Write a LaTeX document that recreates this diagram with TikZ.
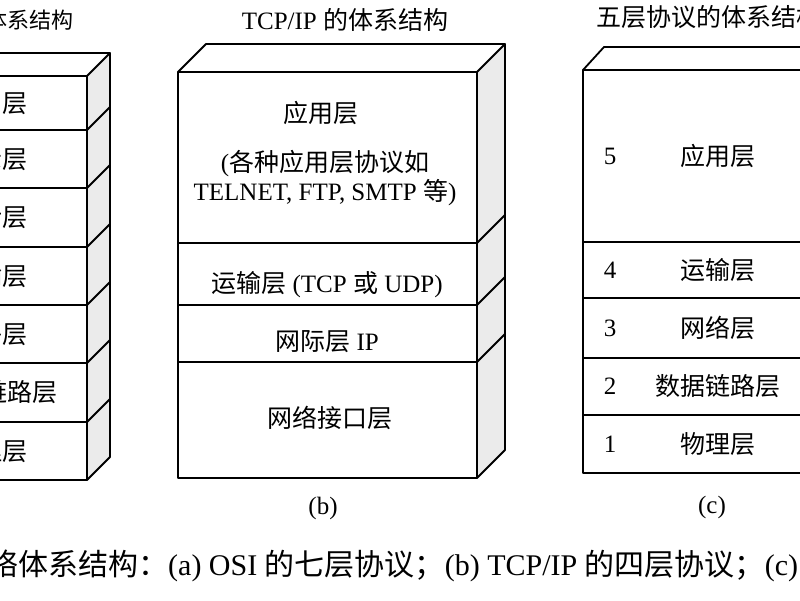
\documentclass[tikz,border=0pt]{standalone}
\usepackage{fontspec}
\setmainfont{Liberation Serif}
\newfontfamily\cjk{Noto Sans CJK SC}
\newcommand{\zh}[1]{{\cjk #1}}
\usetikzlibrary{positioning,calc}

\tikzset{
  edge/.style={line width=1.8pt, line join=round},
  layer/.style={draw, edge, minimum width=#1, inner sep=0pt, outer sep=0pt, font=\fontsize{25}{30}\selectfont},
  side/.style={edge, fill=black!8},
  ttl/.style={font=\fontsize{25}{29}\selectfont, inner sep=0pt},
  txt/.style={font=\fontsize{25}{29}\selectfont, inner sep=0pt, align=center},
  num/.style={font=\fontsize{25}{29}\selectfont, inner sep=0pt},
  captext/.style={font=\fontsize{30}{35}\selectfont, inner sep=0pt}
}

\begin{document}
\begin{tikzpicture}[x=1pt,y=-1pt]
\useasboundingbox (0,0) rectangle (800,600);
\clip (0,0) rectangle (800,600);
\fill[white] (0,0) rectangle (800,600);

% (a) OSI
\node[ttl, font=\fontsize{22}{26}\selectfont, anchor=east] (ta) at (74,20) {OSI \zh{的体系结构}};
\node[layer=194, minimum height=54] (a7) at (-10,103) {\zh{应用层}};
\node[layer=194, minimum height=58, below=0pt of a7] (a6) {\zh{表示层}};
\node[layer=194, minimum height=59, below=0pt of a6] (a5) {\zh{会话层}};
\node[layer=194, minimum height=58, below=0pt of a5] (a4) {\zh{运输层}};
\node[layer=194, minimum height=58, below=0pt of a4] (a3) {\zh{网络层}};
\node[layer=194, minimum height=59, below=0pt of a3] (a2) {\hspace*{10pt}\zh{数据链路层}};
\node[layer=194, minimum height=58, below=0pt of a2] (a1) {\zh{物理层}};
\draw[edge] (a7.north west) -- ++(23,-23) -- ($(a7.north east)+(23,-23)$);
\filldraw[side] (a7.north east) -- ++(23,-23) -- ($(a1.south east)+(23,-23)$) -- (a1.south east) -- cycle;
\foreach \n in {a7,a6,a5,a4,a3,a2}
  \draw[edge] (\n.south east) -- ++(23,-23);

% (b) TCP/IP
\node[ttl] (tb) at (345,20) {TCP/IP \zh{的体系结构}};
\node[layer=299, minimum height=171] (b4) at (327.5,157.5) {};
\node[layer=299, minimum height=62, below=0pt of b4] (b3) {};
\node[layer=299, minimum height=57, below=0pt of b3] (b2) {};
\node[layer=299, minimum height=116, below=0pt of b2] (b1) {};
\draw[edge] (b4.north west) -- ++(28,-28) -- ($(b4.north east)+(28,-28)$);
\filldraw[side] (b4.north east) -- ++(28,-28) -- ($(b1.south east)+(28,-28)$) -- (b1.south east) -- cycle;
\foreach \n in {b4,b3,b2}
  \draw[edge] (\n.south east) -- ++(28,-28);
\node[txt] (b4t) at (321,113) {\zh{应用层}};
\node[txt] (b4n) at (325,178) {(\zh{各种应用层协议如}\\TELNET, FTP, SMTP \zh{等})};
\node[txt] (b3t) at (327,285) {\zh{运输层} (TCP \zh{或} UDP)};
\node[txt] (b2t) at (327,342) {\zh{网际层} IP};
\node[txt] (b1t) at (330,418) {\zh{网络接口层}};
\node[txt] (lb) at (323,508) {(b)};

% (c) five layers
\node[ttl, anchor=west] (tc) at (596,17) {\zh{五层协议的体系结构}};
\node[layer=270, minimum height=172] (c5) at (718,156) {\zh{应用层}};
\node[layer=270, minimum height=56, below=0pt of c5] (c4) {\zh{运输层}};
\node[layer=270, minimum height=60, below=0pt of c4] (c3) {\zh{网络层}};
\node[layer=270, minimum height=57, below=0pt of c3] (c2) {\zh{数据链路层}};
\node[layer=270, minimum height=58, below=0pt of c2] (c1) {\zh{物理层}};
\draw[edge] (c5.north west) -- ++(21,-23) -- ($(c5.north east)+(21,-23)$);
\filldraw[side] (c5.north east) -- ++(21,-23) -- ($(c1.south east)+(21,-23)$) -- (c1.south east) -- cycle;
\foreach \i in {1,...,5}
  \node[num] (n\i) at ($(c\i.west)+(27,0)$) {\i};
\node[txt] (lc) at (712,507) {(c)};

% caption
\node[captext, anchor=base west] (caption) at (-42,575) {\zh{网络体系结构：}(a) OSI \zh{的七层协议；}(b) TCP/IP \zh{的四层协议；}(c) \zh{五层协议}};
\end{tikzpicture}
\end{document}
